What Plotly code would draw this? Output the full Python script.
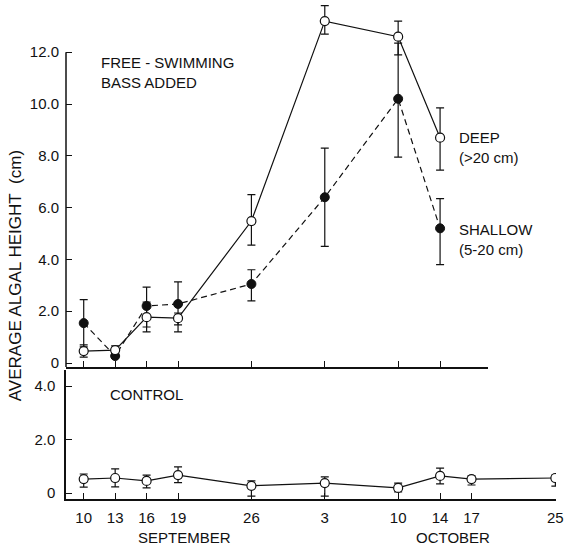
import plotly.graph_objects as go

# ---- data ----
days = [10, 13, 16, 19, 26, 33, 40, 44, 47, 55]          # day count from Sept 1
tick_labels = ["10", "13", "16", "19", "26", "3", "10", "14", "17", "25"]

bass_days = [10, 13, 16, 19, 26, 33, 40, 44]
deep = [0.46, 0.50, 1.77, 1.73, 5.48, 13.2, 12.6, 8.7]
deep_hi = [0.70, 0.66, 2.35, 1.93, 6.50, 13.8, 13.2, 9.85]
deep_lo = [0.23, 0.30, 1.20, 1.47, 4.55, 12.7, 11.9, 7.45]

shallow = [1.54, 0.27, 2.20, 2.28, 3.05, 6.4, 10.2, 5.2]
shallow_hi = [2.45, 0.27, 2.93, 3.13, 3.60, 8.3, 12.35, 6.35]
shallow_lo = [0.62, 0.27, 1.39, 1.20, 2.40, 4.5, 7.95, 3.8]

control = [0.52, 0.56, 0.45, 0.67, 0.27, 0.37, 0.19, 0.64, 0.52, 0.56]
control_hi = [0.71, 0.90, 0.67, 0.98, 0.45, 0.60, 0.37, 0.93, 0.64, 0.67]
control_lo = [0.22, 0.23, 0.19, 0.39, -0.12, -0.12, 0.04, 0.34, 0.30, 0.26]

top_ticks = [0, 2, 4, 6, 8, 10, 12]
top_tick_text = ["0", "2.0", "4.0", "6.0", "8.0", "10.0", "12.0"]
bot_ticks = [0, 2, 4]
bot_tick_text = ["0", "2.0", "4.0"]

# ---- layout geometry ----
W, H = 566, 548
ML, MR, MT, MB = 66, 8, 2, 49
PW, PH = W - ML - MR, H - MT - MB
INK = "#111111"
FONT = "Liberation Sans"

x_lo, x_hi = 8.31, 55.06
top_x_hi = 48.6
top_dom_x = (top_x_hi - x_lo) / (x_hi - x_lo)

def px(xp):
    return (xp - ML) / PW

def py(yp):
    return (H - MB - yp) / PH

fig = go.Figure()

def err(vals, hi, lo):
    return dict(type="data", symmetric=False,
                array=[h - v for h, v in zip(hi, vals)],
                arrayminus=[v - l for v, l in zip(vals, lo)],
                color=INK, thickness=1.2, width=4)

fig.add_trace(go.Scatter(
    x=bass_days, y=shallow, xaxis="x", yaxis="y", mode="lines+markers",
    line=dict(color=INK, width=1.2, dash="6px,4px"),
    marker=dict(symbol="circle", size=9, color=INK, line=dict(color=INK, width=1)),
    error_y=err(shallow, shallow_hi, shallow_lo), showlegend=False))

fig.add_trace(go.Scatter(
    x=bass_days, y=deep, xaxis="x", yaxis="y", mode="lines+markers",
    line=dict(color=INK, width=1.2),
    marker=dict(symbol="circle", size=9, color="white", line=dict(color=INK, width=1.2)),
    error_y=err(deep, deep_hi, deep_lo), showlegend=False))

fig.add_trace(go.Scatter(
    x=days, y=control, xaxis="x2", yaxis="y2", mode="lines+markers",
    line=dict(color=INK, width=1.2),
    marker=dict(symbol="circle", size=9, color="white", line=dict(color=INK, width=1.2)),
    error_y=err(control, control_hi, control_lo), showlegend=False))

axis_font = dict(family=FONT, size=15, color=INK)

fig.update_layout(
    width=W, height=H, margin=dict(l=ML, r=MR, t=MT, b=MB),
    paper_bgcolor="white", plot_bgcolor="white",
    font=axis_font,
    xaxis=dict(domain=[0, top_dom_x], range=[x_lo, top_x_hi], anchor="y",
               tickmode="array", tickvals=bass_days, showticklabels=False,
               ticks="inside", ticklen=6, tickwidth=1.2, tickcolor=INK,
               showline=True, linecolor=INK, linewidth=1.5,
               showgrid=False, zeroline=False),
    yaxis=dict(domain=[py(367), 1], range=[(363 - 367) / 25.9, (363 - MT) / 25.9],
               anchor="x", tickmode="array", tickvals=top_ticks, ticktext=top_tick_text,
               ticks="inside", ticklen=6, tickwidth=1.2, tickcolor=INK,
               ticklabelstandoff=6,
               showline=False, showgrid=False, zeroline=False, tickfont=axis_font),
    xaxis2=dict(domain=[0, 1], range=[x_lo, x_hi], anchor="y2",
                tickmode="array", tickvals=days, ticktext=tick_labels,
                ticks="inside", ticklen=6, tickwidth=1.2, tickcolor=INK,
                ticklabelstandoff=4,
                showline=True, linecolor=INK, linewidth=1.5,
                showgrid=False, zeroline=False, tickfont=axis_font),
    yaxis2=dict(domain=[0, py(370)], range=[(493 - 499) / 26.75, (493 - 370) / 26.75],
                anchor="x2", tickmode="array", tickvals=bot_ticks, ticktext=bot_tick_text,
                ticks="inside", ticklen=6, tickwidth=1.2, tickcolor=INK,
                ticklabelstandoff=6,
                showline=True, linecolor=INK, linewidth=1.5,
                showgrid=False, zeroline=False, tickfont=axis_font),
)

# continuous left axis line for top panel (stops at 12.0)
fig.add_shape(type="line", xref="paper", yref="y", x0=0, x1=0,
              y0=(363 - 367) / 25.9, y1=12.0, line=dict(color=INK, width=1.5))

def note(text, xp, yp, xanchor="left", size=15, angle=0):
    fig.add_annotation(text=text, xref="paper", yref="paper", x=px(xp), y=py(yp),
                       xanchor=xanchor, yanchor="middle", showarrow=False,
                       textangle=angle, align="left",
                       font=dict(family=FONT, size=size, color=INK))

note("FREE - SWIMMING<br>BASS ADDED", 99, 72)
note("CONTROL", 108, 394)
note("DEEP<br>(&gt;20 cm)", 459, 147)
note("SHALLOW<br>(5-20 cm)", 459, 239)
note("SEPTEMBER", 185, 537, xanchor="center")
note("OCTOBER", 455, 537, xanchor="center")
note("AVERAGE ALGAL HEIGHT&nbsp; (cm)", 15, 276, xanchor="center", size=17, angle=-90)

fig.write_html("out.html", config={"displayModeBar": False},
               post_script="document.body.style.margin='0px';document.body.style.overflow='hidden';")
